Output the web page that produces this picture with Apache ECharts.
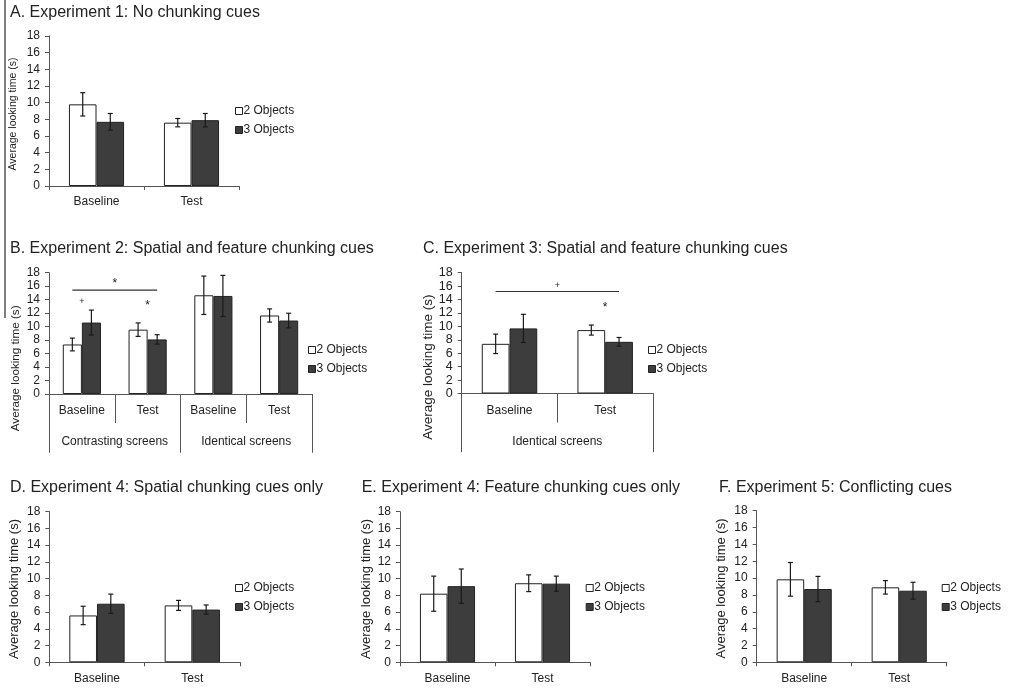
<!DOCTYPE html>
<html><head><meta charset="utf-8">
<script src="https://cdn.jsdelivr.net/npm/echarts@6/dist/echarts.min.js"></script>
<style>html,body{margin:0;padding:0;background:#fff}#c{width:1010px;height:689px}</style>
</head><body><div id="c"></div>
<script>
// ---------------- DATA ----------------
const seriesNames = ['2 Objects', '3 Objects'];
const catsSimple = ['Baseline', 'Test'];
const catsB = ['Baseline', 'Test', 'Baseline', 'Test'];
const groupsB = ['Contrasting screens', 'Identical screens'];
const groupsC = ['Identical screens'];
const yMin = 0, yMax = 18, yStep = 2;
const yAxisName = 'Average looking time (s)';

const titleA = 'A. Experiment 1: No chunking cues';
const titleB = 'B. Experiment 2: Spatial and feature chunking cues';
const titleC = 'C. Experiment 3: Spatial and feature chunking cues';
const titleD = 'D. Experiment 4: Spatial chunking cues only';
const titleE = 'E. Experiment 4: Feature chunking cues only';
const titleF = 'F. Experiment 5: Conflicting cues';

const aTwo = [9.8, 7.6],   aTwoErr = [1.4, 0.5];
const aThree = [7.7, 7.9], aThreeErr = [1.0, 0.8];

const bTwo = [7.35, 9.55, 14.65, 11.65], bTwoErr = [0.95, 1.0, 2.85, 0.98];
const bThree = [10.6, 8.1, 14.55, 10.9], bThreeErr = [1.85, 0.7, 3.05, 1.08];

const cTwo = [7.4, 9.45],  cTwoErr = [1.45, 0.75];
const cThree = [9.7, 7.7], cThreeErr = [2.1, 0.65];

const dTwo = [5.6, 6.8],   dTwoErr = [1.1, 0.6];
const dThree = [7.0, 6.3], dThreeErr = [1.15, 0.55];

const eTwo = [8.2, 9.45],  eTwoErr = [2.1, 1.0];
const eThree = [9.1, 9.4], eThreeErr = [2.05, 0.9];

const fTwo = [9.85, 8.9],  fTwoErr = [2.0, 0.8];
const fThree = [8.7, 8.5], fThreeErr = [1.5, 1.0];

// significance annotations: [fromCat, toCat, lineValue, labelValue]
const sigLinesB = [[0, 1, 15.4, 16.3]];
const sigLineTextB = ['*'];
const sigMarksB = [[0, 13.7], [1, 13.1]];
const sigMarkTextB = ['+', '*'];
const sigLinesC = [[0, 1, 15.2, 16.1]];
const sigLineTextC = ['+'];
const sigMarksC = [[1, 12.8]];
const sigMarkTextC = ['*'];

// ---------------- LAYOUT / STYLE ----------------
const FONT = '"Liberation Sans", Arial, Helvetica, sans-serif';
const TXT = '#222';
const AX = '#555';
const GAP = 0.42;
const COLORS = ['#ffffff', '#3d3d3d'];

const panels = [
  {title: titleA, tL: 10, tT: 5, grid: {left: 49, top: 36, width: 190, height: 150}, cats: catsSimple, groups: null,
   two: aTwo, twoErr: aTwoErr, three: aThree, threeErr: aThreeErr,
   nameFs: 10.5, nameGap: 30, namePad: 6, tickFs: 12, leg: [235, 105]},
  {title: titleB, tL: 10, tT: 241, grid: {left: 49, top: 272.7, width: 263, height: 121.3}, cats: catsB, groups: groupsB,
   two: bTwo, twoErr: bTwoErr, three: bThree, threeErr: bThreeErr,
   nameFs: 11.7, nameGap: 27, namePad: 70, tickFs: 12, leg: [308, 344],
   sigLines: sigLinesB, sigLineText: sigLineTextB, sigMarks: sigMarksB, sigMarkText: sigMarkTextB},
  {title: titleC, tL: 423, tT: 241, grid: {left: 461.7, top: 272.7, width: 191.3, height: 120.8}, cats: catsSimple, groups: groupsC,
   two: cTwo, twoErr: cTwoErr, three: cThree, threeErr: cThreeErr,
   nameFs: 13.5, nameGap: 25, namePad: 68, tickFs: 12.5, leg: [648, 344],
   sigLines: sigLinesC, sigLineText: sigLineTextC, sigMarks: sigMarksC, sigMarkText: sigMarkTextC},
  {title: titleD, tL: 10, tT: 480, grid: {left: 49.3, top: 511.7, width: 190.7, height: 150.6}, cats: catsSimple, groups: null,
   two: dTwo, twoErr: dTwoErr, three: dThree, threeErr: dThreeErr,
   nameFs: 13, nameGap: 28.6, namePad: 4, tickFs: 12, leg: [235, 582]},
  {title: titleE, tL: 361.7, tT: 480, grid: {left: 400, top: 511.7, width: 190, height: 150.6}, cats: catsSimple, groups: null,
   two: eTwo, twoErr: eTwoErr, three: eThree, threeErr: eThreeErr,
   nameFs: 13, nameGap: 27.3, namePad: 4, tickFs: 12, leg: [585.7, 582]},
  {title: titleF, tL: 719, tT: 480, grid: {left: 756.7, top: 510.7, width: 190, height: 151.6}, cats: catsSimple, groups: null,
   two: fTwo, twoErr: fTwoErr, three: fThree, threeErr: fThreeErr,
   nameFs: 13, nameGap: 28.4, namePad: 4, tickFs: 12, leg: [941.7, 582]}
];

function errRender(side) {
  return function (params, api) {
    const c = api.value(0), v = api.value(1), e = api.value(2);
    const bw = api.size([1, 0])[0];
    const off = bw * (1 - GAP) / 4 * side;
    const top = api.coord([c, v + e]);
    const bot = api.coord([c, v - e]);
    const x = top[0] + off;
    const cap = 2.5;
    const st = {stroke: '#1a1a1a', lineWidth: 1.2};
    return {type: 'group', children: [
      {type: 'line', shape: {x1: x, y1: top[1], x2: x, y2: bot[1]}, style: st},
      {type: 'line', shape: {x1: x - cap, y1: top[1], x2: x + cap, y2: top[1]}, style: st},
      {type: 'line', shape: {x1: x - cap, y1: bot[1], x2: x + cap, y2: bot[1]}, style: st}
    ]};
  };
}

function sigLineRender(texts) {
  return function (params, api) {
    const c0 = api.value(0), c1 = api.value(1), lv = api.value(2), tv = api.value(3);
    const bw = api.size([1, 0])[0];
    const off = bw * (1 - GAP) / 4;
    const p0 = api.coord([c0, lv]);
    const p1 = api.coord([c1, lv]);
    const pt = api.coord([c0, tv]);
    const mid = (p0[0] + p1[0]) / 2;
    const t = texts[params.dataIndex];
    return {type: 'group', children: [
      {type: 'line', shape: {x1: p0[0] - off, y1: p0[1], x2: p1[0] + off, y2: p1[1]}, style: {stroke: '#333', lineWidth: 1.2}},
      {type: 'text', style: {text: t, x: mid, y: pt[1], align: 'center', verticalAlign: 'middle',
        font: (t === '+' ? '9px ' : '12px ') + FONT, fill: TXT}}
    ]};
  };
}

function sigMarkRender(texts) {
  return function (params, api) {
    const p = api.coord([api.value(0), api.value(1)]);
    const t = texts[params.dataIndex];
    return {type: 'text', style: {text: t, x: p[0], y: p[1], align: 'center', verticalAlign: 'middle',
      font: (t === '+' ? '9px ' : '12px ') + FONT, fill: TXT}};
  };
}

const option = {
  animation: false,
  backgroundColor: '#fff',
  title: [], grid: [], xAxis: [], yAxis: [], legend: [], series: [],
  graphic: [{type: 'line', shape: {x1: 5, y1: 0, x2: 5, y2: 318}, style: {stroke: '#555', lineWidth: 1.5}}]
};

panels.forEach((p, gi) => {
  option.title.push({text: p.title, left: p.tL, top: p.tT, padding: 0,
    textStyle: {fontFamily: FONT, fontSize: 16, fontWeight: 'normal', color: TXT}});
  option.grid.push(Object.assign({containLabel: false}, p.grid));
  const xi = option.xAxis.length;
  option.xAxis.push({
    gridIndex: gi, type: 'category', data: p.cats,
    axisLine: {lineStyle: {color: AX, width: 1}},
    axisTick: {show: true, interval: 0, length: p.groups ? 29 : 4, lineStyle: {color: AX}},
    axisLabel: {interval: 0, margin: p.groups ? 11 : 10, fontSize: 12, fontFamily: FONT, color: TXT},
    splitLine: {show: false}
  });
  if (p.groups) {
    option.xAxis.push({
      gridIndex: gi, type: 'category', data: p.groups, position: 'bottom',
      axisLine: {show: false},
      axisTick: {show: true, interval: 0, length: 58.7, lineStyle: {color: AX}},
      axisLabel: {interval: 0, margin: 42, fontSize: 12, fontFamily: FONT, color: TXT},
      splitLine: {show: false}
    });
  }
  option.yAxis.push({
    gridIndex: gi, type: 'value', min: yMin, max: yMax, interval: yStep,
    name: yAxisName, nameLocation: 'middle', nameRotate: 90, nameGap: p.nameGap,
    nameTextStyle: {fontSize: p.nameFs, fontFamily: FONT, color: TXT, padding: [0, p.namePad, 0, 0]},
    axisLine: {show: true, lineStyle: {color: AX, width: 1}},
    axisTick: {show: true, length: 4, lineStyle: {color: AX}},
    axisLabel: {margin: 9, fontSize: p.tickFs, fontFamily: FONT, color: TXT},
    splitLine: {show: false}
  });
  option.legend.push({
    left: p.leg[0], top: p.leg[1], orient: 'vertical', icon: 'rect', itemWidth: 7, itemHeight: 7, itemGap: 7,
    selectedMode: false, padding: 0,
    textStyle: {fontSize: 12, fontFamily: FONT, color: TXT, padding: [0, 0, 0, -4]},
    data: seriesNames.map((n, k) => ({name: n, itemStyle: {color: COLORS[k], borderColor: '#222', borderWidth: 1}}))
  });
  const vals = [[p.two, p.twoErr], [p.three, p.threeErr]];
  vals.forEach((vv, k) => {
    option.series.push({
      type: 'bar', name: seriesNames[k], xAxisIndex: xi, yAxisIndex: gi,
      data: vv[0], barGap: '0%', barCategoryGap: (GAP * 100) + '%',
      itemStyle: {color: COLORS[k], borderColor: '#222', borderWidth: 1},
      emphasis: {disabled: true}
    });
  });
  vals.forEach((vv, k) => {
    option.series.push({
      type: 'custom', name: 'err' + gi + k, xAxisIndex: xi, yAxisIndex: gi, z: 5,
      renderItem: errRender(k === 0 ? -1 : 1),
      encode: {x: 0, y: 1},
      data: vv[0].map((v, i) => [i, v, vv[1][i]])
    });
  });
  if (p.sigLines) {
    option.series.push({
      type: 'custom', name: 'sig' + gi, xAxisIndex: xi, yAxisIndex: gi, z: 6,
      renderItem: sigLineRender(p.sigLineText), encode: {x: 0, y: 2},
      data: p.sigLines
    });
    option.series.push({
      type: 'custom', name: 'mark' + gi, xAxisIndex: xi, yAxisIndex: gi, z: 6,
      renderItem: sigMarkRender(p.sigMarkText), encode: {x: 0, y: 1},
      data: p.sigMarks
    });
  }
});

const chart = echarts.init(document.getElementById('c'), null, {renderer: 'canvas'});
chart.setOption(option);
</script>
</body></html>
